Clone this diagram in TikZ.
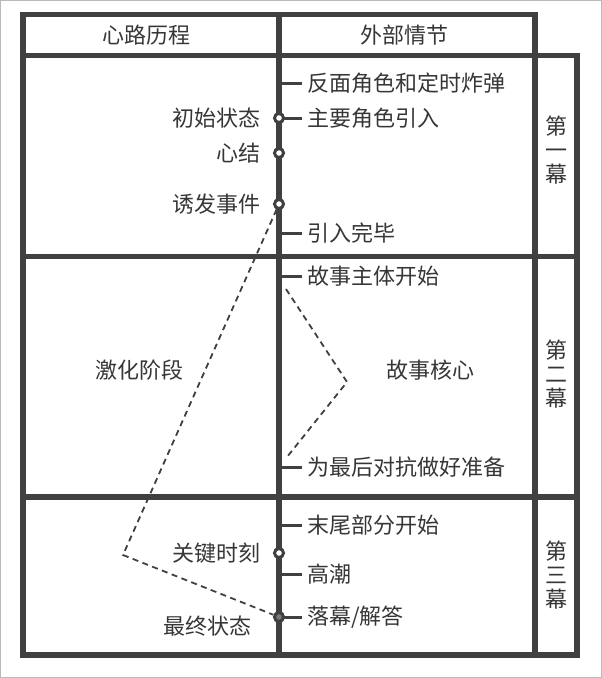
\documentclass[tikz,border=0pt]{standalone}
\usepackage{fontspec}
\setmainfont{Noto Sans CJK SC}
\definecolor{ln}{HTML}{404040}
\definecolor{tx}{HTML}{363636}
\tikzset{v/.style = {circle, line width=3pt, minimum size=9pt, inner sep=0pt, draw=ln, fill=white},
    vf/.style = {circle, line width=3pt, minimum size=9pt, inner sep=0pt, draw=ln, fill=ln!70},
    ev/.style = {anchor=west, inner sep=0pt, text=tx},
    ps/.style = {anchor=east, inner sep=0pt, text=tx},
    mu/.style = {align=center, inner sep=0pt, text=tx},
    tk/.style = {line width=3pt, ln},
    fr/.style = {line width=5.5pt, ln},
    d/.style = {dash pattern=on 6pt off 4.5pt, line width=1.8pt, ln}}
\begin{document}
\begin{tikzpicture}[x=1pt, y=-1pt, font=\fontsize{22pt}{24pt}\selectfont]
        \useasboundingbox (0,0) rectangle (602,678);
        \draw[gray!55, line width=2pt] (0,0) rectangle (602,678);

        \draw[fr] (23,14.5) rectangle (535,655);
        \draw[fr] (535,55.5) -- (577,55.5) -- (577,655) -- (535,655);
        \foreach \y in {55.5, 256.5, 497} \draw[fr] (23,\y) -- (535,\y);
        \foreach \y in {256.5, 497} \draw[fr] (535,\y) -- (577,\y);
        \draw[fr] (279,14.5) -- (279,655);

        \node[mu] (h1) at (146,35) {心路历程};
        \node[mu] (h2) at (404,35) {外部情节};

        \foreach \n/\y/\t in {1/83/反面角色和定时炸弹, 2/118/主要角色引入, 3/233/引入完毕,
            4/276/故事主体开始, 5/467/为最后对抗做好准备, 6/525/末尾部分开始, 7/574/高潮, 8/617/{落幕/解答}} {
            \coordinate (s\n) at (279,\y);
            \node[ev] (e\n) at (307,\y) {\t};
            \draw[tk] (s\n) -- ([xshift=-5pt]e\n.west);
        }

        \foreach \n/\y/\t in {1/118/初始状态, 2/153/心结, 3/204/诱发事件, 4/553/关键时刻} {
            \node[v] (c\n) at (279,\y) {};
            \node[ps] (l\n) at (261,\y) {\t};
        }
        \node[vf] (c5) at (279,617) {};
        \node[ps] (l5) at (252,626) {最终状态};

        \node[mu] (k1) at (139,370) {激化阶段};
        \node[mu] (k2) at (430,370) {故事核心};

        \foreach \n/\y/\t in {1/150/一, 2/374/二, 3/575/三} \node[mu] (m\n) at (556,\y) {第\\\t\\幕};

        \coordinate (p1) at (123,555);
        \draw[d] (c3) -- (p1) -- (c5);
        \coordinate (q1) at (286,289);
        \coordinate (q2) at (347,382);
        \coordinate (q3) at (287,457);
        \draw[d] (q1) -- (q2) -- (q3);
    \end{tikzpicture}
\end{document}
